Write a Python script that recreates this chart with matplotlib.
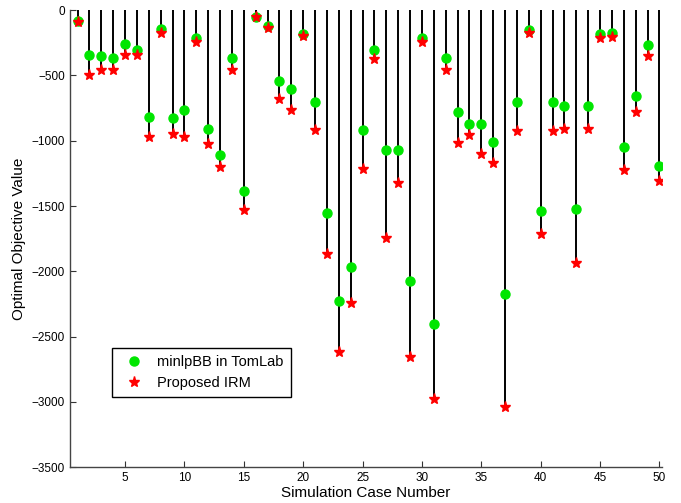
import numpy as np
import matplotlib
matplotlib.use("Agg")
import matplotlib.pyplot as plt

plt.rcParams['font.family'] = ['Liberation Sans', 'DejaVu Sans']

cases = np.arange(1, 51)
minlpbb = [-82, -344, -352, -370, -258, -304, -816, -148, -824, -765,
           -212, -908, -1112, -370, -1383, -51, -120, -541, -607, -184,
           -704, -1554, -2224, -1969, -921, -304, -1074, -1074, -2074, -212,
           -2403, -370, -778, -875, -870, -1013, -2176, -704, -156, -1538,
           -704, -737, -1520, -737, -181, -176, -1051, -658, -268, -1191]
irm = [-89, -495, -457, -457, -342, -342, -970, -173, -949, -970,
       -245, -1028, -1199, -457, -1528, -51, -135, -681, -765, -196,
       -921, -1867, -2615, -2245, -1219, -372, -1745, -1324, -2653, -242,
       -2977, -462, -1020, -957, -1104, -1173, -3041, -923, -176, -1714,
       -923, -911, -1939, -911, -212, -204, -1224, -778, -350, -1311]

fig = plt.figure(figsize=(6.81, 5.03), dpi=100)
ax = fig.add_axes([0.1028, 0.071, 0.869, 0.909])

ax.vlines(cases, irm, 0, colors='black', lw=1.4, zorder=2)
ax.plot(cases, minlpbb, 'o', color='#00e600', ms=6.5, mec='#00e600',
        label='minlpBB in TomLab', zorder=3)
ax.plot(cases, irm, '*', color='red', ms=8, mec='red',
        label='Proposed IRM', zorder=4)

ax.set_xlim(0.36, 50.2)
ax.set_ylim(-3500, 0)
ax.set_xticks(np.arange(5, 51, 5))
ax.set_yticks(np.arange(-3500, 1, 500))
ax.tick_params(direction='in', length=4, labelsize=8.5, colors='#333333',
               labelcolor='black')
ax.spines['top'].set_visible(False)
ax.spines['right'].set_visible(False)
for s in ['left', 'bottom']:
    ax.spines[s].set_color('#444444')
    ax.spines[s].set_linewidth(1.0)

ax.set_xlabel('Simulation Case Number', fontsize=11, labelpad=1)
ax.set_ylabel('Optimal Objective Value', fontsize=11, labelpad=4)

leg = ax.legend(loc='upper left', bbox_to_anchor=(0.071, 0.261),
                borderaxespad=0, fancybox=False, edgecolor='black',
                fontsize=10.5, handlelength=2.0, framealpha=1,
                borderpad=0.5, labelspacing=0.45, handletextpad=0.6)
leg.get_frame().set_linewidth(1.0)

fig.savefig('out.png', dpi=100)
